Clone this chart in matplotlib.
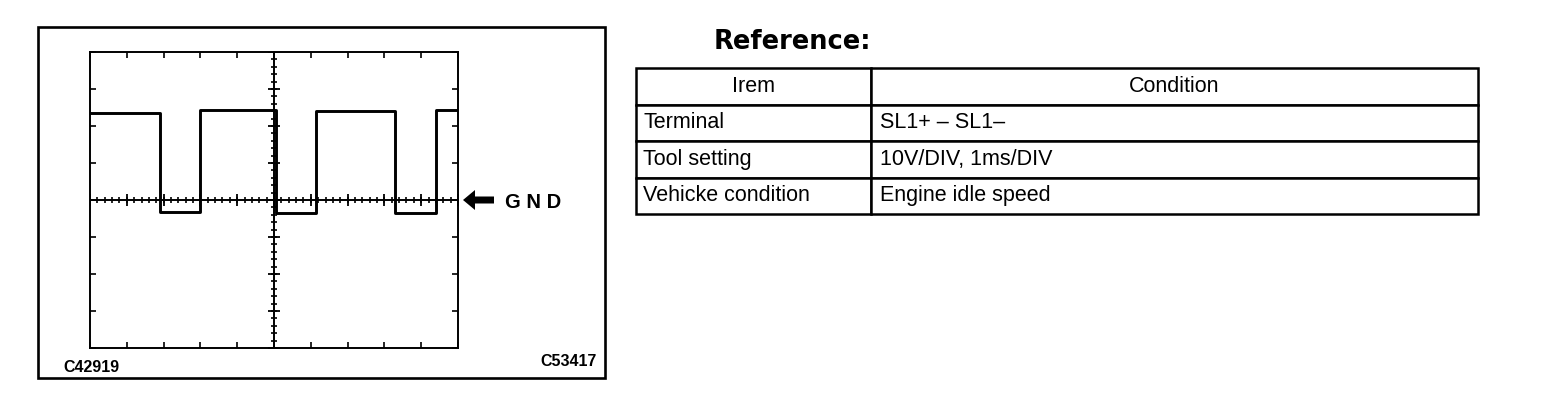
import numpy as np
import matplotlib
matplotlib.use("Agg")
import matplotlib.pyplot as plt
from matplotlib.patches import Rectangle, FancyArrow

W, H = 1568, 404

# scope trace: 1 ms/DIV, 10 V/DIV
edge_ms = [0.0, 1.9, 3.0, 5.05, 6.15, 8.3, 9.4, 10.0]
level_v = [23.5, -3.3, 24.2, -3.6, 24.0, -3.6, 24.2, 24.2]
x_divs = 10
y_divs = 8
volts_per_div = 10

# reference table
table_header = ["Irem", "Condition"]
table_items = ["Terminal", "Tool setting", "Vehicke condition"]
table_conditions = ["SL1+ \u2013 SL1\u2013", "10V/DIV, 1ms/DIV", "Engine idle speed"]

left_code = "C42919"
right_code = "C53417"

plt.rcParams['font.family'] = ['Liberation Sans', 'DejaVu Sans']


def px_axes(fig, l, t, r, b):
    """Add axes given in figure pixel coordinates (top-left origin)."""
    return fig.add_axes([l / W, 1 - b / H, (r - l) / W, (b - t) / H])


fig = plt.figure(figsize=(W / 100, H / 100), dpi=100)

# overlay in pixel units for frame, arrow, labels
over = px_axes(fig, 0, 0, W, H)
over.set_xlim(0, W)
over.set_ylim(H, 0)
over.axis('off')
over.add_patch(Rectangle((38, 27), 567, 351, fill=False, lw=1.9, ec='black'))

# scope screen
ax = px_axes(fig, 90, 52, 458, 348)
ymax = y_divs / 2 * volts_per_div
ax.set_xlim(0, x_divs)
ax.set_ylim(-ymax, ymax)
for s in ax.spines.values():
    s.set_linewidth(1.4)
ax.set_xticks(np.arange(0, x_divs + 1, 1))
ax.set_yticks(np.arange(-ymax, ymax + 1, volts_per_div))
ax.tick_params(direction='in', length=4, width=1.2, top=True, right=True,
               labelbottom=False, labelleft=False)

# centre graticule lines with sub-division marks
ax.axhline(0, color='black', lw=1.4, zorder=2)
ax.axvline(x_divs / 2, color='black', lw=1.4, zorder=2)
sub_x = np.arange(0, x_divs + 0.01, 0.2)
sub_y = np.arange(-ymax, ymax + 0.01, volts_per_div * 0.2)
ax.plot(sub_x, np.zeros_like(sub_x), ls='none', marker='|', ms=5, mew=1.2, color='black')
ax.plot(np.arange(0, x_divs + 1), np.zeros(x_divs + 1), ls='none', marker='|', ms=8, mew=1.3, color='black')
ax.plot(np.full_like(sub_y, x_divs / 2), sub_y, ls='none', marker='_', ms=5, mew=1.2, color='black')
ax.plot(np.full(y_divs + 1, x_divs / 2), np.arange(-ymax, ymax + 1, volts_per_div),
        ls='none', marker='_', ms=8, mew=1.3, color='black')

# signal
ax.step(edge_ms, level_v, where='post', color='black', lw=2.1, zorder=3)

# GND marker
over.add_patch(FancyArrow(494, 200, -31, 0, width=7, head_width=20, head_length=12,
                          length_includes_head=True, color='black', lw=0))
over.text(505, 202, "G N D", fontsize=14.5, fontweight='bold', va='center', ha='left')

over.text(63, 367, left_code, fontsize=11.5, fontweight='bold', va='center', ha='left')
over.text(597, 362, right_code, fontsize=11.5, fontweight='bold', va='center', ha='right')

# reference table
over.text(714, 42, "Reference:", fontsize=18.5, fontweight='bold', va='center', ha='left',
          family='DejaVu Sans')

rows = [[a, b] for a, b in zip(table_items, table_conditions)]
tab = over.table(cellText=rows, colLabels=table_header,
                 colWidths=[235, 607], cellLoc='left',
                 bbox=[636 / W, 1 - 214 / H, (1478 - 636) / W, (214 - 68) / H])
tab.auto_set_font_size(False)
for (r, c), cell in tab.get_celld().items():
    cell.set_linewidth(1.8)
    cell.set_edgecolor('black')
    txt = cell.get_text()
    txt.set_fontsize(15.5)
    if r == 0:
        txt.set_ha('center')
    else:
        cell.PAD = 0.03 if c == 0 else 0.015

fig.savefig("out.png", dpi=100)
